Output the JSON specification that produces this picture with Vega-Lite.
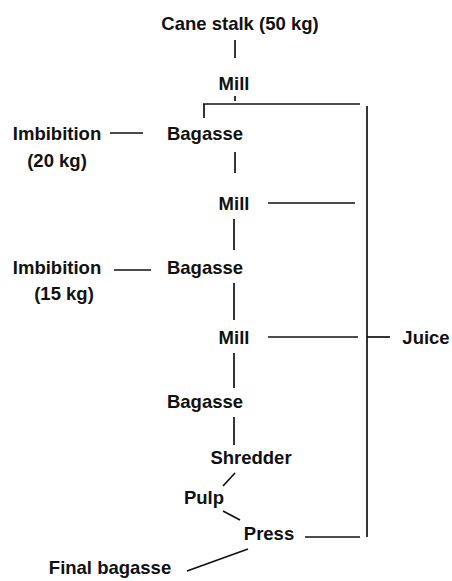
{
  "$schema": "https://vega.github.io/schema/vega-lite/v6.json",
  "width": 452,
  "height": 581,
  "padding": 0,
  "autosize": "none",
  "background": "white",
  "config": {"view": {"stroke": null}},
  "datasets": {
    "lines": [
      {"x": 235, "y": 40, "x2": 235, "y2": 58},
      {"x": 235, "y": 96, "x2": 235, "y2": 101},
      {"x": 203, "y": 104, "x2": 360, "y2": 104},
      {"x": 204, "y": 104, "x2": 204, "y2": 118},
      {"x": 367, "y": 106, "x2": 367, "y2": 537},
      {"x": 110, "y": 133, "x2": 143, "y2": 133},
      {"x": 235, "y": 152, "x2": 235, "y2": 173},
      {"x": 268, "y": 203, "x2": 355, "y2": 203},
      {"x": 234, "y": 219, "x2": 234, "y2": 250},
      {"x": 114, "y": 270, "x2": 151, "y2": 270},
      {"x": 234, "y": 283, "x2": 234, "y2": 320},
      {"x": 268, "y": 337, "x2": 358, "y2": 337},
      {"x": 367, "y": 337, "x2": 390, "y2": 337},
      {"x": 234, "y": 353, "x2": 234, "y2": 388},
      {"x": 234, "y": 417, "x2": 234, "y2": 445},
      {"x": 235, "y": 473, "x2": 223, "y2": 486},
      {"x": 223, "y": 511, "x2": 240, "y2": 520},
      {"x": 305, "y": 537, "x2": 360, "y2": 537},
      {"x": 248, "y": 549, "x2": 187, "y2": 571}
    ],
    "labels": [
      {"label": "Cane stalk (50 kg)", "x": 240, "y": 24},
      {"label": "Mill", "x": 234, "y": 84},
      {"label": "Imbibition", "x": 57, "y": 134},
      {"label": "Bagasse", "x": 205, "y": 134},
      {"label": "(20 kg)", "x": 57, "y": 161},
      {"label": "Mill", "x": 234, "y": 204},
      {"label": "Imbibition", "x": 57, "y": 268},
      {"label": "Bagasse", "x": 205, "y": 268},
      {"label": "(15 kg)", "x": 64, "y": 294},
      {"label": "Mill", "x": 234, "y": 338},
      {"label": "Juice", "x": 426, "y": 338},
      {"label": "Bagasse", "x": 205, "y": 402},
      {"label": "Shredder", "x": 251, "y": 458},
      {"label": "Pulp", "x": 204, "y": 498},
      {"label": "Press", "x": 269, "y": 534},
      {"label": "Final bagasse", "x": 110, "y": 568}
    ]
  },
  "layer": [
    {
      "data": {"name": "lines"},
      "mark": {"type": "rule", "color": "#111111", "strokeWidth": 1.7},
      "encoding": {
        "x": {"field": "x", "type": "quantitative", "scale": {"domain": [0, 452]}, "axis": null},
        "y": {"field": "y", "type": "quantitative", "scale": {"domain": [0, 581], "reverse": true}, "axis": null},
        "x2": {"field": "x2"},
        "y2": {"field": "y2"}
      }
    },
    {
      "data": {"name": "labels"},
      "mark": {"type": "text", "font": "Liberation Sans", "fontWeight": "bold", "fontSize": 18.5, "color": "#111111", "align": "center", "baseline": "middle"},
      "encoding": {
        "x": {"field": "x", "type": "quantitative", "scale": {"domain": [0, 452]}, "axis": null},
        "y": {"field": "y", "type": "quantitative", "scale": {"domain": [0, 581], "reverse": true}, "axis": null},
        "text": {"field": "label"}
      }
    }
  ]
}
